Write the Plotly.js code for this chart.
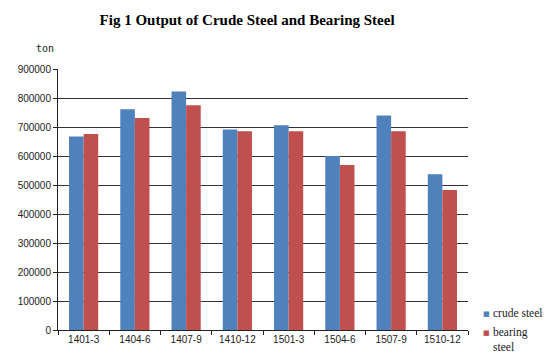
<!DOCTYPE html>
<html>
<head>
<meta charset="utf-8">
<script src="https://cdn.plot.ly/plotly-3.0.1.min.js"></script>
<style>html,body{margin:0;padding:0;background:#fff;}#chart{width:549px;height:359px;}</style>
</head>
<body>
<div id="chart"></div>
<script>
const categories = ["1401-3","1404-6","1407-9","1410-12","1501-3","1504-6","1507-9","1510-12"];
const crudeSteel = [667000, 761000, 822000, 691000, 706000, 600000, 740000, 537000];
const bearingSteel = [676000, 731000, 775000, 685000, 685000, 569000, 685000, 483000];
const yTicks = [0,100000,200000,300000,400000,500000,600000,700000,800000,900000];
const seriesNames = ["crude steel", "bearing<br>steel"];
const seriesColors = ["#4F81BD", "#C0504D"];

const traces = [
  {type:'bar', name:seriesNames[0], x:categories, y:crudeSteel, marker:{color:seriesColors[0]}, showlegend:false},
  {type:'bar', name:seriesNames[1], x:categories, y:bearingSteel, marker:{color:seriesColors[1]}, showlegend:false}
];

const legendY = [0.095, 0.022];
const legendAnn = [];
seriesNames.forEach((n, i) => {
  legendAnn.push({text:'■', xref:'paper', yref:'paper', x:1.046, y:legendY[i], xanchor:'center', yanchor:'top',
    showarrow:false, font:{family:'DejaVu Sans, sans-serif', size:7, color:seriesColors[i]}, yshift:-3});
  legendAnn.push({text:n, xref:'paper', yref:'paper', x:1.056, y:legendY[i], xanchor:'left', yanchor:'top', align:'left',
    showarrow:false, font:{family:'Liberation Serif, serif', size:11.5, color:'#222'}});
});

const layout = {
  width:549, height:359,
  margin:{l:58, r:81, t:69, b:29, pad:0, autoexpand:false},
  paper_bgcolor:'#fff', plot_bgcolor:'#fff',
  barmode:'group', bargap:0.43, bargroupgap:0,
  showlegend:false,
  title:{text:'<b>Fig 1 Output of Crude Steel and Bearing Steel</b>',
    font:{family:'Liberation Serif, Times New Roman, serif', size:15, color:'#000'},
    x:0.45, xanchor:'center', y:0.945, yanchor:'middle'},
  xaxis:{type:'category', showline:true, linecolor:'#222', linewidth:1,
    ticks:'outside', ticklen:4, tickcolor:'#222', tickson:'boundaries',
    tickangle:0, automargin:false,
    tickfont:{family:'Liberation Sans, Arial, sans-serif', size:10, color:'#222'},
    showgrid:false},
  yaxis:{range:[0,900000], tickvals:yTicks, ticktext:yTicks.map(String),
    showline:true, linecolor:'#222', linewidth:1, automargin:false,
    ticks:'outside', ticklen:4, tickcolor:'#222',
    showgrid:true, gridcolor:'#333', gridwidth:1, zeroline:false,
    tickfont:{family:'Liberation Sans, Arial, sans-serif', size:10, color:'#222'}},
  annotations:[{text:'ton', xref:'paper', yref:'paper', x:-0.032, y:1.077, xanchor:'center', yanchor:'middle',
    showarrow:false, font:{family:'DejaVu Sans Mono, monospace', size:10, color:'#222'}}].concat(legendAnn)
};

Plotly.newPlot('chart', traces, layout, {staticPlot:true, displayModeBar:false});
</script>
</body>
</html>
